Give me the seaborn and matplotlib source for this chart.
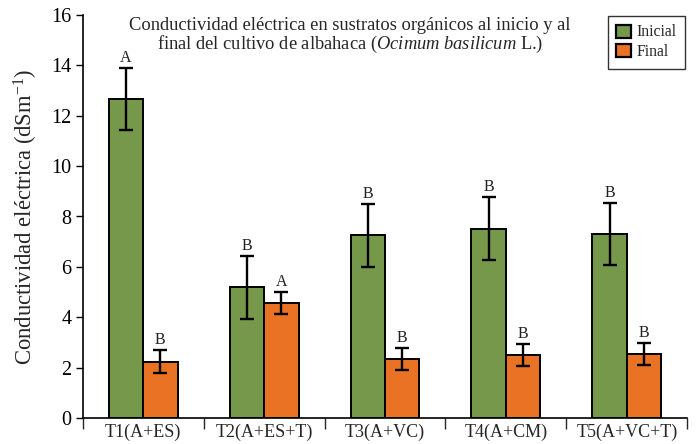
import matplotlib
matplotlib.use("Agg")
import matplotlib.pyplot as plt
import seaborn as sns
import pandas as pd
import numpy as np
from matplotlib.patches import Patch

categories = ["T1(A+ES)", "T2(A+ES+T)", "T3(A+VC)", "T4(A+CM)", "T5(A+VC+T)"]
inicial = [12.65, 5.2, 7.26, 7.52, 7.3]
inicial_err = [1.23, 1.25, 1.25, 1.25, 1.24]
final = [2.24, 4.56, 2.33, 2.5, 2.53]
final_err = [0.44, 0.43, 0.43, 0.44, 0.43]
letters_inicial = ["A", "B", "B", "B", "B"]
letters_final = ["B", "A", "B", "B", "B"]
series = ["Inicial", "Final"]

sns.set_style("ticks")
plt.rcParams["font.family"] = ["Liberation Serif", "DejaVu Serif"]
plt.rcParams["mathtext.fontset"] = "custom"
plt.rcParams["mathtext.rm"] = "Liberation Serif"
plt.rcParams["mathtext.it"] = "Liberation Serif:italic"

df = pd.DataFrame({
    "Tratamiento": categories * 2,
    "Serie": [series[0]] * len(categories) + [series[1]] * len(categories),
    "CE": inicial + final,
})

colors = {"Inicial": "#76984B", "Final": "#E97224"}

fig = plt.figure(figsize=(6.99, 4.44), dpi=100)
ax = fig.add_axes([82.7 / 699, 26 / 444, 604.6 / 699, 403 / 444])

sns.barplot(data=df, x="Tratamiento", y="CE", hue="Serie", palette=colors,
            width=0.57, errorbar=None, edgecolor="black", linewidth=1.4,
            saturation=1, ax=ax, legend=False)

vals = inicial + final
errs = inicial_err + final_err
lets = letters_inicial + letters_final
for p, v, e, l in zip(ax.patches, vals, errs, lets):
    xc = p.get_x() + p.get_width() / 2
    ax.errorbar(xc, v, yerr=e, fmt="none", ecolor="black", elinewidth=1.7,
                capsize=4.8, capthick=1.7, zorder=5)
    ax.text(xc, v + e + 0.08, l, ha="center", va="bottom", fontsize=11.5, color="#222222")

ax.set_ylim(0, 16)
ax.set_xlim(-0.5, 4.5)
ax.set_yticks(np.arange(0, 17, 2))
ax.tick_params(axis="y", labelsize=14.5, length=5, width=1, direction="out", colors="black", pad=3)
ax.tick_params(axis="x", which="major", length=0, labelsize=13, pad=4)
ax.set_xticks(np.arange(-0.5, 5, 1), minor=True)
ax.tick_params(axis="x", which="minor", length=8, width=1, direction="out")
ax.set_xlabel("")
ax.set_ylabel("Conductividad eléctrica (dSm$^{-1}$)", fontsize=16.3, labelpad=8)

sns.despine(ax=ax, top=True, right=True)
for s in ["left", "bottom"]:
    ax.spines[s].set_linewidth(1.2)
    ax.spines[s].set_color("black")

ax.text(0.442, 0.975, "Conductividad eléctrica en sustratos orgánicos al inicio y al",
        transform=ax.transAxes, ha="center", va="center", fontsize=13.3)
ax.text(0.442, 0.926, "final del cultivo de albahaca ($\\mathit{Ocimum\\ basilicum}$ L.)",
        transform=ax.transAxes, ha="center", va="center", fontsize=13.3)

handles = [Patch(facecolor=colors[s], edgecolor="black", linewidth=1.6, label=s) for s in series]
leg = ax.legend(handles=handles, loc="upper right", bbox_to_anchor=(0.997, 0.998),
                fontsize=11.3, frameon=True, fancybox=False, framealpha=1,
                edgecolor="#333333", handlelength=0.9, handleheight=0.9,
                handletextpad=0.4, borderpad=0.55, labelspacing=0.25, borderaxespad=0)
leg.get_frame().set_linewidth(1.0)

fig.savefig("out.png", dpi=100)
